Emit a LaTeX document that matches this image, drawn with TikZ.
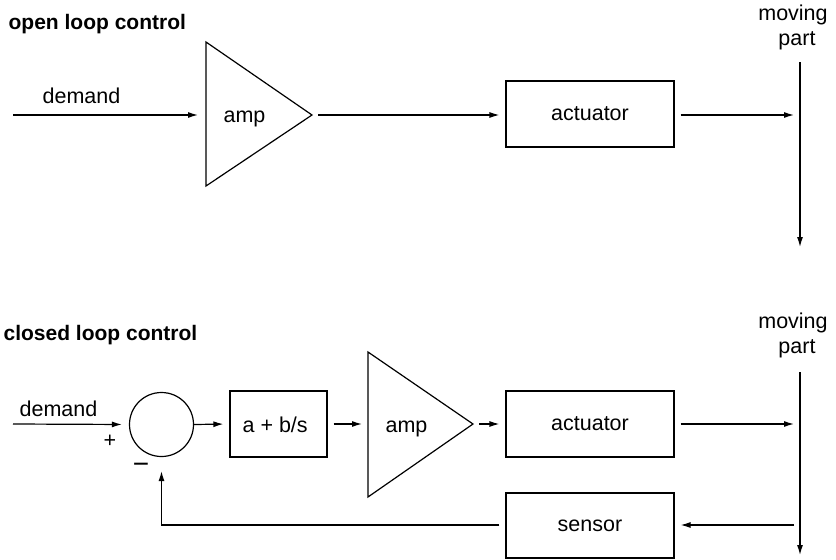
\documentclass[tikz,border=0pt]{standalone}
\usepackage{fontspec}
\setmainfont{Liberation Sans}
\usetikzlibrary{arrows.meta}
\begin{document}
\begin{tikzpicture}[x=1pt,y=-1pt,
  font=\fontsize{21.5}{25}\selectfont,
  line width=1.2pt,
  blk/.style={draw,rectangle,inner sep=0pt,minimum width=168pt,minimum height=66pt},
  arr/.style={-{Latex[length=10pt,width=6pt]}},
  lbl/.style={inner sep=0pt,anchor=base west},
  mlbl/.style={inner sep=0pt,anchor=base},
  ttl/.style={inner sep=0pt,anchor=base west,font=\fontsize{21}{25}\selectfont\bfseries},
  gap/.style={shorten <=6pt,shorten >=6pt}]
\useasboundingbox (0,0) rectangle (836,560);
% ---------------- open loop ----------------
\node[ttl] (t1) at (8,29) {open loop control};
\node[lbl] (d1) at (42,103) {demand};
\coordinate (in1) at (13,115);
\coordinate (a1t) at (206,42);
\coordinate (a1b) at (206,186);
\coordinate (a1tip) at (312,115);
\coordinate (a1in) at (206,115);
\draw (a1t) -- (a1tip) -- (a1b) -- cycle;
\node[lbl] (amp1) at (223,122) {amp};
\node[blk] (act1) at (590,114) {actuator};
\coordinate (mp1top) at (800,62);
\coordinate (mp1x) at (800,115);
\coordinate (mp1bot) at (800,247);
\node[mlbl] (mv1) at (793,20) {moving};
\node[mlbl] (pt1) at (797,45) {part};
\draw[arr,shorten >=8pt] (in1) -- (a1in);
\draw[arr,gap] (a1tip) -- (act1.west |- a1tip);
\draw[arr,gap] (act1.east |- mp1x) -- (mp1x);
\draw (mp1top) -- ([yshift=-2pt]mp1x);
\draw[arr] ([yshift=2pt]mp1x) -- (mp1bot);
% ---------------- closed loop ----------------
\node[ttl] (t2) at (3,340) {closed loop control};
\node[lbl] (d2) at (19,416) {demand};
\coordinate (in2) at (13,424);
\node[draw,circle,minimum size=64pt,inner sep=0pt] (sum) at (161.5,424.5) {};
\node[inner sep=0pt] (plus) at (110,441) {+};
\node[inner sep=0pt,font=\fontsize{28}{30}\selectfont] (minus) at (141,468) {\char"2212};
\node[draw,rectangle,inner sep=0pt,minimum width=97pt,minimum height=66pt] (pi) at (278.5,424) {};
\node[lbl] (pil) at (242,432) {a + b/s};
\coordinate (a2t) at (368,352);
\coordinate (a2b) at (368,497);
\coordinate (a2tip) at (473,424);
\coordinate (a2in) at (368,424);
\draw (a2t) -- (a2tip) -- (a2b) -- cycle;
\node[lbl] (amp2) at (385,432) {amp};
\node[blk] (act2) at (590,424) {actuator};
\node[blk,minimum height=65pt] (sens) at (590,525.5) {sensor};
\coordinate (mp2top) at (800,372);
\coordinate (mp2x) at (800,424);
\coordinate (mp2s) at (800,525);
\coordinate (mp2bot) at (800,555);
\coordinate (fb) at (161.5,525);
\node[mlbl] (mv2) at (793,328) {moving};
\node[mlbl] (pt2) at (797,353) {part};
\draw[arr,shorten >=7pt] (in2) -- (sum.west);
\draw[arr,shorten >=6pt] (sum.east) -- (pi.west);
\draw[arr,gap] (pi.east) -- (a2in);
\draw[arr,gap] (a2tip) -- (act2.west |- a2tip);
\draw[arr,gap] (act2.east |- mp2x) -- (mp2x);
\draw (mp2top) -- ([yshift=-2pt]mp2x);
\draw[arr] ([yshift=2pt]mp2x) -- (mp2bot);
\draw[arr,gap] (mp2s) -- (sens.east |- mp2s);
\draw[arr,shorten <=6pt,shorten >=14pt] (sens.west |- fb) -- (fb) -- (sum.south);
\end{tikzpicture}
\end{document}
